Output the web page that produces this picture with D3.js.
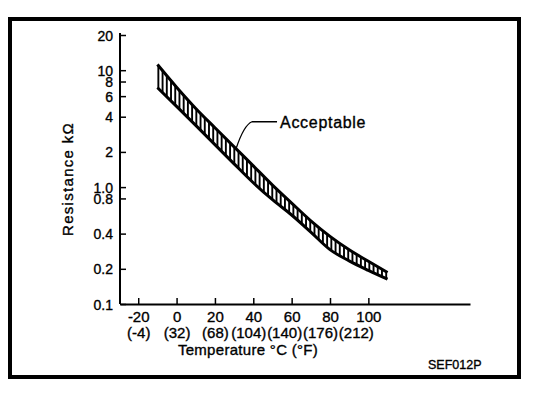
<!DOCTYPE html>
<html><head><meta charset="utf-8">
<script src="https://cdn.jsdelivr.net/npm/d3@7"></script>
<style>
body{margin:0;background:#fff}
text{font-family:"Liberation Sans",Arial,Helvetica,sans-serif;fill:#000;stroke:#000;stroke-width:0.35px}
</style>
</head><body><svg id="c" width="560" height="398"></svg>
<script>
// ---- data ----
const tempTicks = [-20, 0, 20, 40, 60, 80, 100];
const fahrLabels = ["(-4)", "(32)", "(68)", "(104)", "(140)", "(176)", "(212)"];
const resTicks = [0.1, 0.2, 0.4, 0.8, 1.0, 2, 4, 6, 8, 10, 20];
const resLabels = ["0.1", "0.2", "0.4", "0.8", "1.0", "2", "4", "6", "8", "10", "20"];
const bandTemps = [-10, 0, 10, 20, 30, 40, 50, 60, 70, 80, 90, 100, 110];
const upperRes = [11.2, 7.16, 4.71, 3.22, 2.21, 1.52, 1.04, 0.73, 0.515, 0.379, 0.291, 0.232, 0.186];
const lowerRes = [7.1, 4.9, 3.37, 2.31, 1.58, 1.09, 0.78, 0.577, 0.412, 0.292, 0.234, 0.194, 0.163];
const bandLabel = "Acceptable";
const labelTemp = 31;

const svg = d3.select("#c");

// frame
svg.append("rect").attr("x", 10).attr("y", 19).attr("width", 509).attr("height", 358)
  .attr("fill", "none").attr("stroke", "#000").attr("stroke-width", 4);

const x = d3.scaleLinear().domain([-29.5, 153]).range([120, 470]);
const y = d3.scaleLog().domain([0.1, 20]).range([304, 35]);

// band interpolators (log space)
const upLog = d3.scaleLinear().domain(bandTemps).range(upperRes.map(Math.log10));
const loLog = d3.scaleLinear().domain(bandTemps).range(lowerRes.map(Math.log10));
const yu = t => y(Math.pow(10, upLog(t)));
const yl = t => y(Math.pow(10, loLog(t)));

// y axis
const yAxis = d3.axisRight(y).tickValues(resTicks).tickSizeInner(6).tickSizeOuter(0)
  .tickFormat((d, i) => resLabels[i]);
const gy = svg.append("g").attr("transform", "translate(120,0)").call(yAxis);
gy.select(".domain").attr("d", "M0,33V304").attr("stroke-width", 2);
gy.selectAll(".tick line").attr("stroke-width", 1.5);
gy.selectAll(".tick text").attr("x", -7).attr("text-anchor", "end")
  .attr("font-size", 14).attr("dy", "0.36em").attr("fill", "#000");

// x axis
const xAxis = d3.axisBottom(x).tickValues(tempTicks).tickSizeInner(-6).tickSizeOuter(0)
  .tickFormat(d => d);
const gx = svg.append("g").attr("transform", "translate(0,304)").call(xAxis);
gx.select(".domain").attr("stroke-width", 2);
gx.selectAll(".tick line").attr("stroke-width", 1.5);
gx.selectAll(".tick text").attr("font-size", 15).attr("fill", "#000")
  .attr("y", 0).attr("dy", null).text(null)
  .each(function (d, i) {
    const t = d3.select(this);
    t.append("tspan").attr("x", 0).attr("y", 17.5).text(d);
    t.append("tspan").attr("x", i >= 3 ? -(i - 1) * 2.5 : 0).attr("y", 33.5).text(fahrLabels[i]);
  });

// axis titles
svg.append("text").attr("x", 248).attr("y", 355).attr("text-anchor", "middle")
  .attr("font-size", 15).attr("letter-spacing", 0.3).text("Temperature °C (°F)");
svg.append("text").attr("transform", "translate(73,179) rotate(-90)")
  .attr("text-anchor", "middle").attr("font-size", 15).attr("letter-spacing", 1.3)
  .text("Resistance  kΩ");

// hatches
const hatchT = d3.range(-9.5, 110, 2.2);
svg.append("g").selectAll("line").data(hatchT).join("line")
  .attr("x1", d => x(d)).attr("x2", d => x(d))
  .attr("y1", d => yu(d)).attr("y2", d => yl(d))
  .attr("stroke", "#000").attr("stroke-width", 1.9);

// boundary curves
const line = d3.line().x(d => x(d[0])).y(d => y(d[1])).curve(d3.curveMonotoneX);
svg.append("path").datum(bandTemps.map((t, i) => [t, upperRes[i]]))
  .attr("d", line).attr("fill", "none").attr("stroke", "#000").attr("stroke-width", 3);
svg.append("path").datum(bandTemps.map((t, i) => [t, lowerRes[i]]))
  .attr("d", line).attr("fill", "none").attr("stroke", "#000").attr("stroke-width", 3);

// label with leader
const ax = x(labelTemp), ay = yu(labelTemp);
svg.append("path")
  .attr("d", `M${ax},${ay} Q${ax + 8},${ay - 24} ${ax + 16},${ay - 27} L${ax + 41},${ay - 27}`)
  .attr("fill", "none").attr("stroke", "#000").attr("stroke-width", 1.3);
svg.append("text").attr("x", ax + 44).attr("y", ay - 21).attr("font-size", 16)
  .attr("letter-spacing", 0.7).text(bandLabel);

// figure code
svg.append("text").attr("x", 428).attr("y", 369).attr("font-size", 12.5).text("SEF012P");
</script>
</body></html>
